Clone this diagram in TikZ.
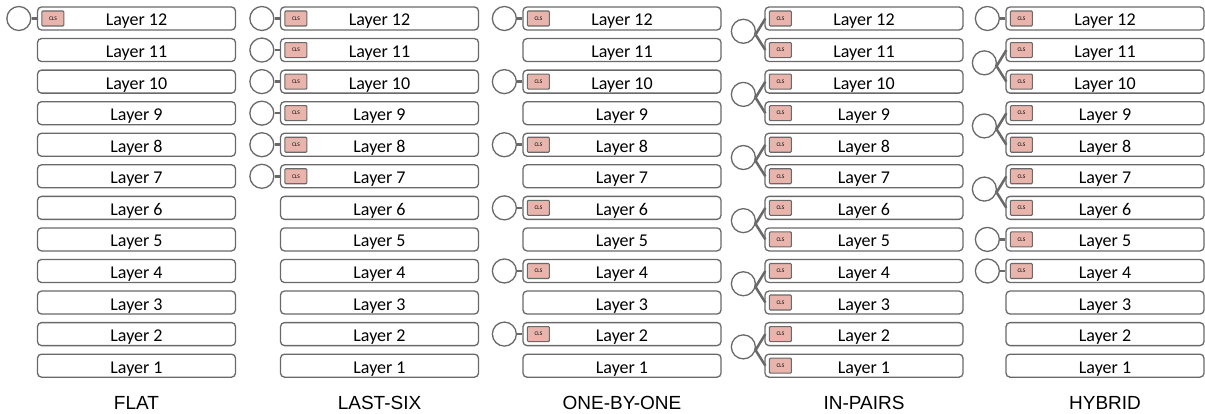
\documentclass[tikz,border=0pt]{standalone}
\usepackage{fontspec}
\setmainfont{Carlito}
\newfontfamily\titlefont{Liberation Sans}
\usetikzlibrary{calc}
\definecolor{edgegray}{RGB}{105,105,105}
\definecolor{clsfill}{RGB}{232,180,172}
\begin{document}
\begin{tikzpicture}[x=1pt,y=-1pt,
  layerbox/.style={draw=edgegray, line width=1.3pt, rounded corners=4pt, fill=white,
    minimum width=198pt, minimum height=23pt, inner sep=0pt,
    text height=15pt, text depth=0pt,
    font=\fontsize{18}{18}\selectfont},
  clsbox/.style={draw=edgegray, fill=clsfill, line width=1.1pt, rounded corners=1pt,
    minimum width=22pt, minimum height=15pt, inner sep=0pt,
    font=\fontsize{5.5}{5.5}\selectfont},
  headnode/.style={circle, draw=edgegray, line width=1.3pt, fill=white,
    minimum size=24pt, inner sep=0pt},
  link/.style={draw=edgegray, line width=2.5pt},
  title/.style={anchor=base, font={\titlefont\fontsize{19}{20}\selectfont}}]
\useasboundingbox (0,0) rectangle (1205,414);

% layer boxes and titles
\foreach \c/\cx/\name in {1/136.5/FLAT, 2/379.5/LAST-SIX, 3/622/ONE-BY-ONE, 4/864/IN-PAIRS, 5/1105/HYBRID} {
  \foreach \n in {1,...,12} {
    \node[layerbox] (b\c-\n) at (\cx, {18.5+(12-\n)*31.56}) {Layer \n};
  }
  \node[title] (t\c) at (\cx, 409) {\name};
}

% single heads
\foreach \c/\n in {1/12, 2/12, 2/11, 2/10, 2/9, 2/8, 2/7,
                   3/12, 3/10, 3/8, 3/6, 3/4, 3/2,
                   5/12, 5/5, 5/4} {
  \node[headnode] (h\c-\n) at ([xshift=-18pt]b\c-\n.west) {};
  \draw[link] (h\c-\n.east) -- (b\c-\n.west);
}

% paired heads
\foreach \c/\a/\b in {4/12/11, 4/10/9, 4/8/7, 4/6/5, 4/4/3, 4/2/1,
                      5/11/10, 5/9/8, 5/7/6} {
  \node[headnode] (p\c-\a) at ($(b\c-\a.west)!0.5!(b\c-\b.west)+(-21,-3)$) {};
  \coordinate (f\c-\a) at (p\c-\a.-15);
  \draw[link] (f\c-\a) -- ([xshift=1pt]b\c-\a.west);
  \draw[link] (f\c-\a) -- ([xshift=1pt]b\c-\b.west);
}

% CLS boxes
\foreach \c/\n in {1/12, 2/12, 2/11, 2/10, 2/9, 2/8, 2/7,
                   3/12, 3/10, 3/8, 3/6, 3/4, 3/2,
                   4/12, 4/11, 4/10, 4/9, 4/8, 4/7, 4/6, 4/5, 4/4, 4/3, 4/2, 4/1,
                   5/12, 5/11, 5/10, 5/9, 5/8, 5/7, 5/6, 5/5, 5/4} {
  \node[clsbox, anchor=west] (k\c-\n) at ([xshift=4.5pt]b\c-\n.west) {CLS};
}
\end{tikzpicture}
\end{document}
